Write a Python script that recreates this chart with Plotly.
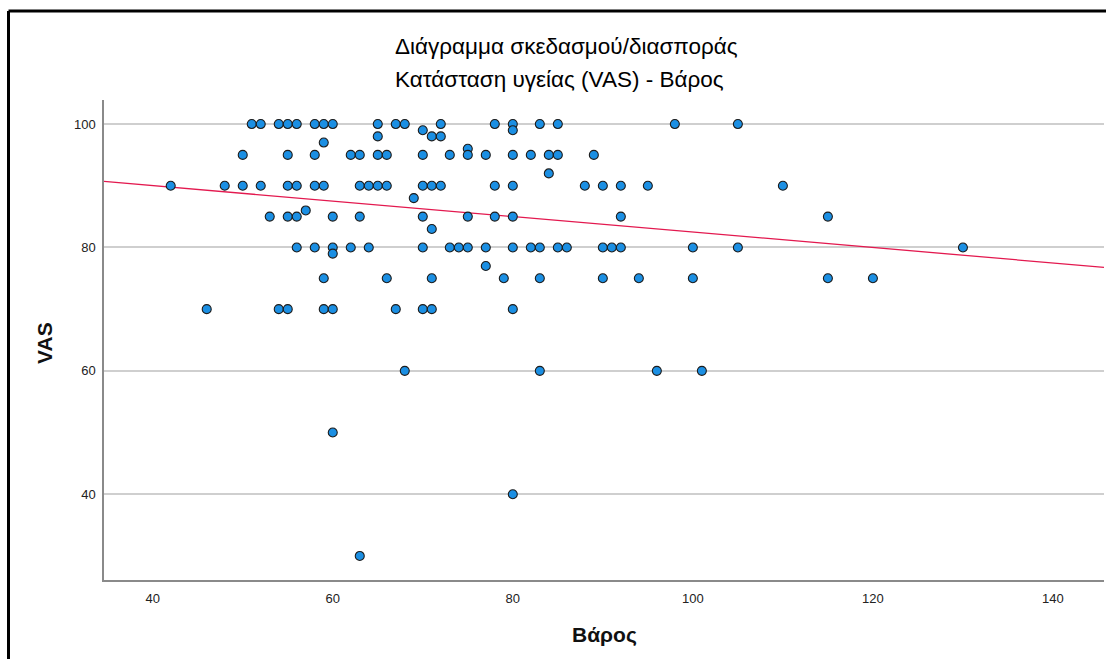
import plotly.graph_objects as go

# ---- data ----
weight = [
    51, 52, 54, 55, 56, 58, 59, 60, 65, 67, 68, 72, 78, 80, 83, 85, 98, 105,
    70, 80,
    65, 71, 72,
    59,
    75,
    50, 55, 58, 62, 63, 65, 66, 70, 73, 75, 77, 80, 82, 84, 85, 89,
    84,
    42, 48, 50, 52, 55, 56, 58, 59, 63, 64, 65, 66, 70, 71, 72, 78, 80, 88, 90, 92, 95, 110,
    69,
    57,
    53, 55, 56, 60, 63, 70, 75, 78, 80, 92, 115,
    71,
    56, 58, 60, 62, 64, 70, 73, 74, 75, 77, 80, 82, 83, 85, 86, 90, 91, 92, 100, 105, 130,
    60,
    77,
    59, 66, 71, 79, 83, 90, 94, 100, 115, 120,
    46, 54, 55, 59, 60, 67, 70, 71, 80,
    68, 83, 96, 101,
    60,
    80,
    63,
]
vas = (
    [100] * 18 + [99] * 2 + [98] * 3 + [97] + [96] + [95] * 16 + [92]
    + [90] * 22 + [88] + [86] + [85] * 11 + [83] + [80] * 21 + [79] + [77]
    + [75] * 10 + [70] * 9 + [60] * 4 + [50] + [40] + [30]
)

fit_intercept = 95.03
fit_slope = -0.1253

x_range = [34.59, 145.67]
y_range = [26.1, 103.9]
x_ticks = [40, 60, 80, 100, 120, 140]
y_ticks = [40, 60, 80, 100]

title_1 = "Διάγραμμα σκεδασμού/διασποράς"
title_2 = "Κατάσταση υγείας (VAS) - Βάρος"
x_title = "Βάρος"
y_title = "VAS"

FONT = "Liberation Sans, Arial, sans-serif"

fig = go.Figure()

fig.add_trace(go.Scatter(
    x=x_range,
    y=[fit_intercept + fit_slope * v for v in x_range],
    mode="lines",
    line=dict(color="#e3194f", width=1.3),
    hoverinfo="skip",
    showlegend=False,
))

fig.add_trace(go.Scatter(
    x=weight, y=vas, mode="markers",
    marker=dict(size=9, color="#1b8fe3", line=dict(color="#1c1c1c", width=1.1)),
    showlegend=False,
))

fig.update_layout(
    width=1106, height=659,
    margin=dict(l=104, r=2, t=100, b=79),
    paper_bgcolor="white", plot_bgcolor="white",
    font=dict(family=FONT, color="#222"),
    xaxis=dict(
        range=x_range, tickvals=x_ticks, showgrid=False, zeroline=False,
        showline=True, linecolor="#8a8a8a", linewidth=1.5,
        ticks="", tickfont=dict(size=13, color="#222"), ticklabelstandoff=6,
    ),
    yaxis=dict(
        range=y_range, tickvals=y_ticks, showgrid=True, gridcolor="#cfcfcf",
        gridwidth=1.5, zeroline=False,
        showline=True, linecolor="#8a8a8a", linewidth=1.5,
        ticks="", tickfont=dict(size=13, color="#222"), ticklabelstandoff=4,
    ),
    annotations=[
        dict(text=title_1, xref="paper", yref="paper", x=0.462, y=1.111,
             xanchor="center", yanchor="middle", showarrow=False,
             font=dict(size=22.5, color="#000")),
        dict(text=title_2, xref="paper", yref="paper", x=0.455, y=1.042,
             xanchor="center", yanchor="middle", showarrow=False,
             font=dict(size=22.5, color="#000")),
        dict(text="<b>" + x_title + "</b>", xref="paper", yref="paper", x=0.5, y=-0.115,
             xanchor="center", yanchor="middle", showarrow=False,
             font=dict(size=21, color="#111")),
        dict(text="<b>" + y_title + "</b>", xref="paper", yref="paper", x=-0.059, y=0.494,
             xanchor="center", yanchor="middle", showarrow=False, textangle=-90,
             font=dict(size=21, color="#111")),
    ],
    shapes=[
        dict(type="line", xref="paper", yref="paper", x0=-0.0955, x1=-0.0955,
             y0=-0.3, y1=1.1855, line=dict(color="black", width=3)),
        dict(type="line", xref="paper", yref="paper", x0=-0.0955, x1=1.01,
             y0=1.1855, y1=1.1855, line=dict(color="black", width=3)),
    ],
)

fig.write_html(
    "out.html",
    config={"displayModeBar": False},
    post_script="document.body.style.margin='0';document.body.style.overflow='hidden';",
)
